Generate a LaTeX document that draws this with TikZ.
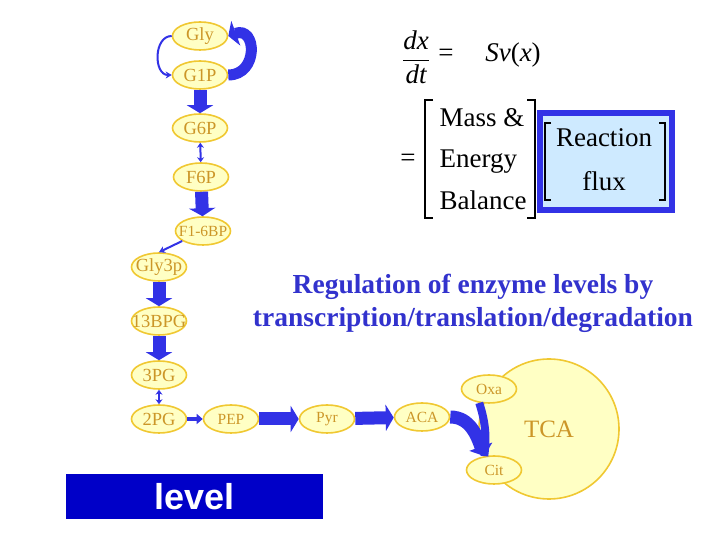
\documentclass[tikz,border=0pt]{standalone}
\usepackage{fontspec}
\setmainfont{Liberation Serif}
\setsansfont{Liberation Sans}
\usetikzlibrary{shapes.geometric,arrows.meta}

\definecolor{metfill}{RGB}{255,255,196}
\definecolor{metline}{RGB}{240,200,50}
\definecolor{mettext}{RGB}{204,150,40}
\definecolor{flux}{RGB}{50,50,230}
\definecolor{regtext}{RGB}{50,50,205}
\definecolor{fluxbox}{RGB}{206,234,255}
\definecolor{levelblue}{RGB}{0,0,200}

\begin{document}
\begin{tikzpicture}[x=1pt,y=1pt,
  met/.style={ellipse,draw=metline,fill=metfill,line width=1.6pt,
    minimum width=55pt,minimum height=28pt,inner sep=0pt,text=mettext,
    font=\fontsize{18.5}{18}\selectfont,
    execute at begin node={\hbox to 0pt\bgroup\hss},
    execute at end node={\hss\egroup}},
  smallmet/.style={met,font=\fontsize{15.5}{15}\selectfont},
  bigflux/.style={draw=flux,line width=13pt,-{Triangle[width=26pt,length=8pt]}},
  midflux/.style={draw=flux,line width=4pt,-{Triangle[width=10pt,length=6pt]}},
  thinflux/.style={draw=flux,line width=2pt,-{Stealth[width=7pt,length=6pt]}},
  bothflux/.style={draw=flux,line width=2pt,{Stealth[width=7pt,length=5pt]}-{Stealth[width=7pt,length=5pt]}},
  bracket/.style={draw=black,line width=1.6pt},
  eqtext/.style={font=\fontsize{27}{32}\selectfont}]
\useasboundingbox (0,0) rectangle (720,540);

% upper glycolysis
\node[met] (gly) at (200,504) {Gly};
\node[met] (g1p) at (200,465) {G1P};
\node[met] (g6p) at (200,412) {G6P};
\node[met] (f6p) at (201,363) {F6P};
\node[smallmet] (f16bp) at (203,309) {F1-6BP};

% lower glycolysis
\node[met] (gly3p) at (159,273) {Gly3p};
\node[met] (bpg13) at (159,219) {13BPG};
\node[met] (pg3) at (159,165) {3PG};
\node[met] (pg2) at (159,121) {2PG};
\node[smallmet] (pep) at (231,121) {PEP};
\node[smallmet] (pyr) at (327,121) {Pyr};
\node[smallmet] (aca) at (422,123) {ACA};

% TCA cycle
\node[circle,draw=metline,fill=metfill,line width=1.6pt,minimum size=140pt,
  text=mettext,font=\fontsize{25}{25}\selectfont] (tca) at (549,111) {TCA};
\node[smallmet] (oxa) at (489,151) {Oxa};
\node[smallmet] (cit) at (494,70) {Cit};

% fluxes
\draw[thinflux] (gly.west) to[out=180,in=180,looseness=1.2] (g1p.west);
\draw[bigflux,line width=11pt] (g1p.east) to[out=0,in=20,looseness=2] (gly.east);
\draw[bigflux] (g1p) -- (g6p);
\draw[bothflux] (g6p) -- (f6p);
\draw[bigflux] (f6p) -- (f16bp);
\draw[thinflux] (f16bp) -- (gly3p.north);
\draw[bigflux] (gly3p) -- (bpg13);
\draw[bigflux] (bpg13) -- (pg3);
\draw[bothflux] (pg3) -- (pg2);
\draw[midflux] (pg2) -- (pep);
\draw[bigflux] (pep) -- (pyr);
\draw[bigflux] (pyr) -- (aca);
\draw[draw=flux,line width=8pt] (oxa.235) to[bend left=12] (cit.125);
\draw[bigflux,-{Triangle[width=24pt,length=10pt]}] (aca.east) to[out=0,in=110] (cit.125);

% mass balance equation
\node[eqtext] (dxdt) at (416,483) {$\displaystyle\frac{\textit{dx}}{\textit{dt}}$};
\node[eqtext] (eq1) at (446,485) {=};
\node[eqtext] (svx) at (513,485) {\textit{Sv}(\textit{x})};
\node[eqtext] (eq2) at (408,380) {=};
\draw[bracket] (433,440) -- (425,440) -- (425,322) -- (433,322);
\node[eqtext,anchor=base west] (mass) at (436,413) {Mass \&};
\node[eqtext,anchor=base west] (energy) at (436,372) {Energy};
\node[eqtext,anchor=base west] (balance) at (436,330) {Balance};
\draw[bracket] (527,440) -- (535,440) -- (535,322) -- (527,322);
\draw[draw=flux,fill=fluxbox,line width=6pt] (540,330) rectangle (672,427);
\draw[bracket,line width=1.2pt] (551,417) -- (545,417) -- (545,340) -- (551,340);
\draw[bracket,line width=1.2pt] (659,417) -- (665,417) -- (665,340) -- (659,340);
\node[eqtext] (reaction) at (604,402) {Reaction};
\node[eqtext] (fluxtext) at (604,359) {flux};

% regulation
\node[align=center,text=regtext,font=\fontsize{27.5}{33}\selectfont\bfseries] (regul) at (473,237)
  {Regulation of enzyme levels by\\transcription/translation/degradation};

\node[fill=levelblue,minimum width=257pt,minimum height=45pt,inner sep=0pt,
  text=white,font=\sffamily\bfseries\fontsize{36}{36}\selectfont] (level) at (194.5,43.5) {level};
\end{tikzpicture}
\end{document}
